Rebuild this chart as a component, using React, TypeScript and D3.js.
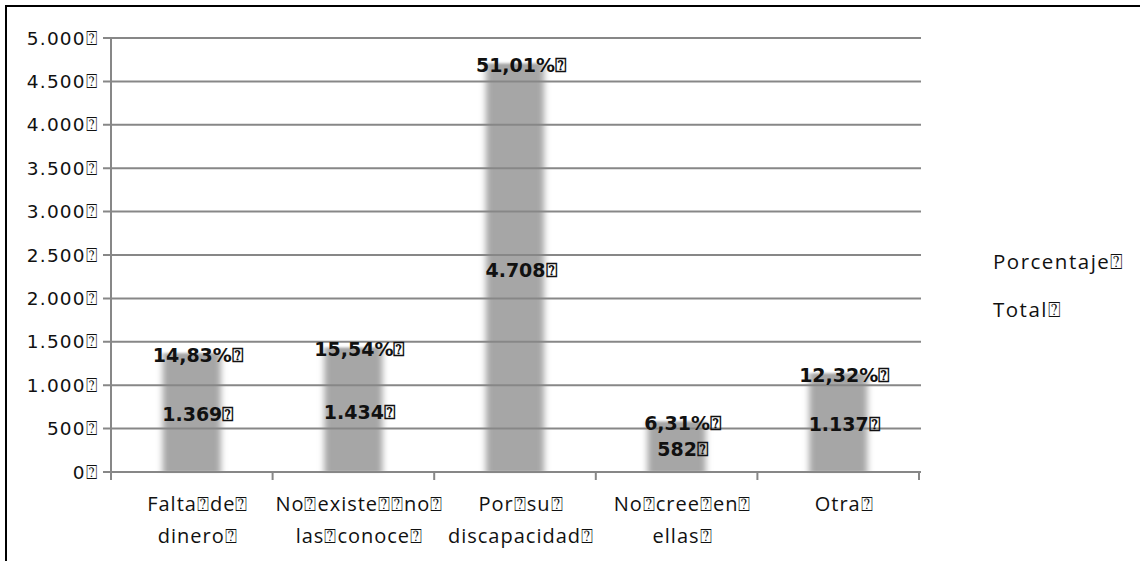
import React from "react";
import * as d3 from "d3";

const BOX = "\u2370";

const categoryLines: string[][] = [
  ["Falta" + BOX + "de" + BOX, "dinero" + BOX],
  ["No" + BOX + "existe" + BOX + BOX + "no" + BOX, "las" + BOX + "conoce" + BOX],
  ["Por" + BOX + "su" + BOX, "discapacidad" + BOX],
  ["No" + BOX + "cree" + BOX + "en" + BOX, "ellas" + BOX],
  ["Otra" + BOX],
];
const categories = ["c1", "c2", "c3", "c4", "c5"];
const totals = [1369, 1434, 4708, 582, 1137];
const percentages = [14.83, 15.54, 51.01, 6.31, 12.32];
const yTicks = [0, 500, 1000, 1500, 2000, 2500, 3000, 3500, 4000, 4500, 5000];
const legendLabels = ["Porcentaje" + BOX, "Total" + BOX];

const W = 1140;
const H = 561;
const left = 111;
const right = 919;
const top = 38;
const bottom = 472;

const fmtTotal = (v: number) => d3.format(",")(v).replace(/,/g, ".");
const fmtPct = (v: number) => v.toFixed(2).replace(".", ",") + "%";

export default function App() {
  const x = d3
    .scaleBand<string>()
    .domain(categories)
    .range([left, right])
    .paddingInner(0.64)
    .paddingOuter(0.32);
  const y = d3.scaleLinear().domain([0, 5000]).range([bottom, top]);
  const step = x.step();
  const grid = "#878787";
  const catFont = "'Open Sans', 'Noto Sans', sans-serif";
  const offset = 6;

  return (
    <svg
      width={W}
      height={H}
      style={{ position: "absolute", left: 0, top: 0, background: "#fff" }}
    >
      <defs>
        <filter id="soft" x="-30%" y="-10%" width="160%" height="120%">
          <feGaussianBlur stdDeviation="3 0.8" />
        </filter>
      </defs>
      <rect x={0} y={0} width={W} height={H} fill="#fff" />
      <rect x={6} y={6} width={W + 20} height={H + 20} fill="none" stroke="#000" strokeWidth={2} />

      {/* bars */}
      <g filter="url(#soft)">
        {totals.map((v, i) => (
          <rect
            key={i}
            x={x(categories[i])!}
            y={y(v)}
            width={x.bandwidth()}
            height={bottom - y(v)}
            fill="#a6a6a6"
          />
        ))}
      </g>

      {/* gridlines */}
      {yTicks.map((t) => (
        <line key={t} x1={left - 8} x2={right + 2} y1={y(t)} y2={y(t)} stroke={grid} strokeWidth={2} />
      ))}
      <line x1={left} x2={left} y1={top} y2={bottom + 8} stroke={grid} strokeWidth={2} />
      {d3.range(categories.length + 1).map((i) => (
        <line
          key={i}
          x1={left + i * step}
          x2={left + i * step}
          y1={bottom}
          y2={bottom + 8}
          stroke={grid}
          strokeWidth={2}
        />
      ))}

      {/* y tick labels */}
      {yTicks.map((t) => (
        <text
          key={t}
          x={98}
          y={y(t)}
          dy="0.36em"
          textAnchor="end"
          fontFamily="'DejaVu Sans', sans-serif"
          fontSize={18.5}
          letterSpacing={1.2}
          fill="#111"
        >
          {fmtTotal(t) + BOX}
        </text>
      ))}

      {/* category labels */}
      {categoryLines.map((lines, i) => {
        const cx = x(categories[i])! + x.bandwidth() / 2 + offset;
        return lines.map((ln, j) => (
          <text
            key={i + "-" + j}
            x={cx}
            y={511 + j * 32}
            textAnchor="middle"
            fontFamily={catFont}
            fontSize={20}
            letterSpacing={1}
            fill="#111"
          >
            {ln}
          </text>
        ));
      })}

      {/* data labels */}
      {totals.map((v, i) => {
        const cx = x(categories[i])! + x.bandwidth() / 2 + offset;
        return (
          <g key={i} fontFamily="'DejaVu Sans', sans-serif" fontWeight="bold" fontSize={19} fill="#111">
            <text x={cx} y={y(v) + 2} dy="0.36em" textAnchor="middle">
              {fmtPct(percentages[i]) + BOX}
            </text>
            <text x={cx} y={y(v / 2) + 2} dy="0.36em" textAnchor="middle">
              {fmtTotal(v) + BOX}
            </text>
          </g>
        );
      })}

      {/* legend */}
      {legendLabels.map((l, i) => (
        <text
          key={l}
          x={993}
          y={269 + i * 48}
          fontFamily={catFont}
          fontSize={20.5}
          letterSpacing={1.5}
          fill="#111"
        >
          {l}
        </text>
      ))}
    </svg>
  );
}
